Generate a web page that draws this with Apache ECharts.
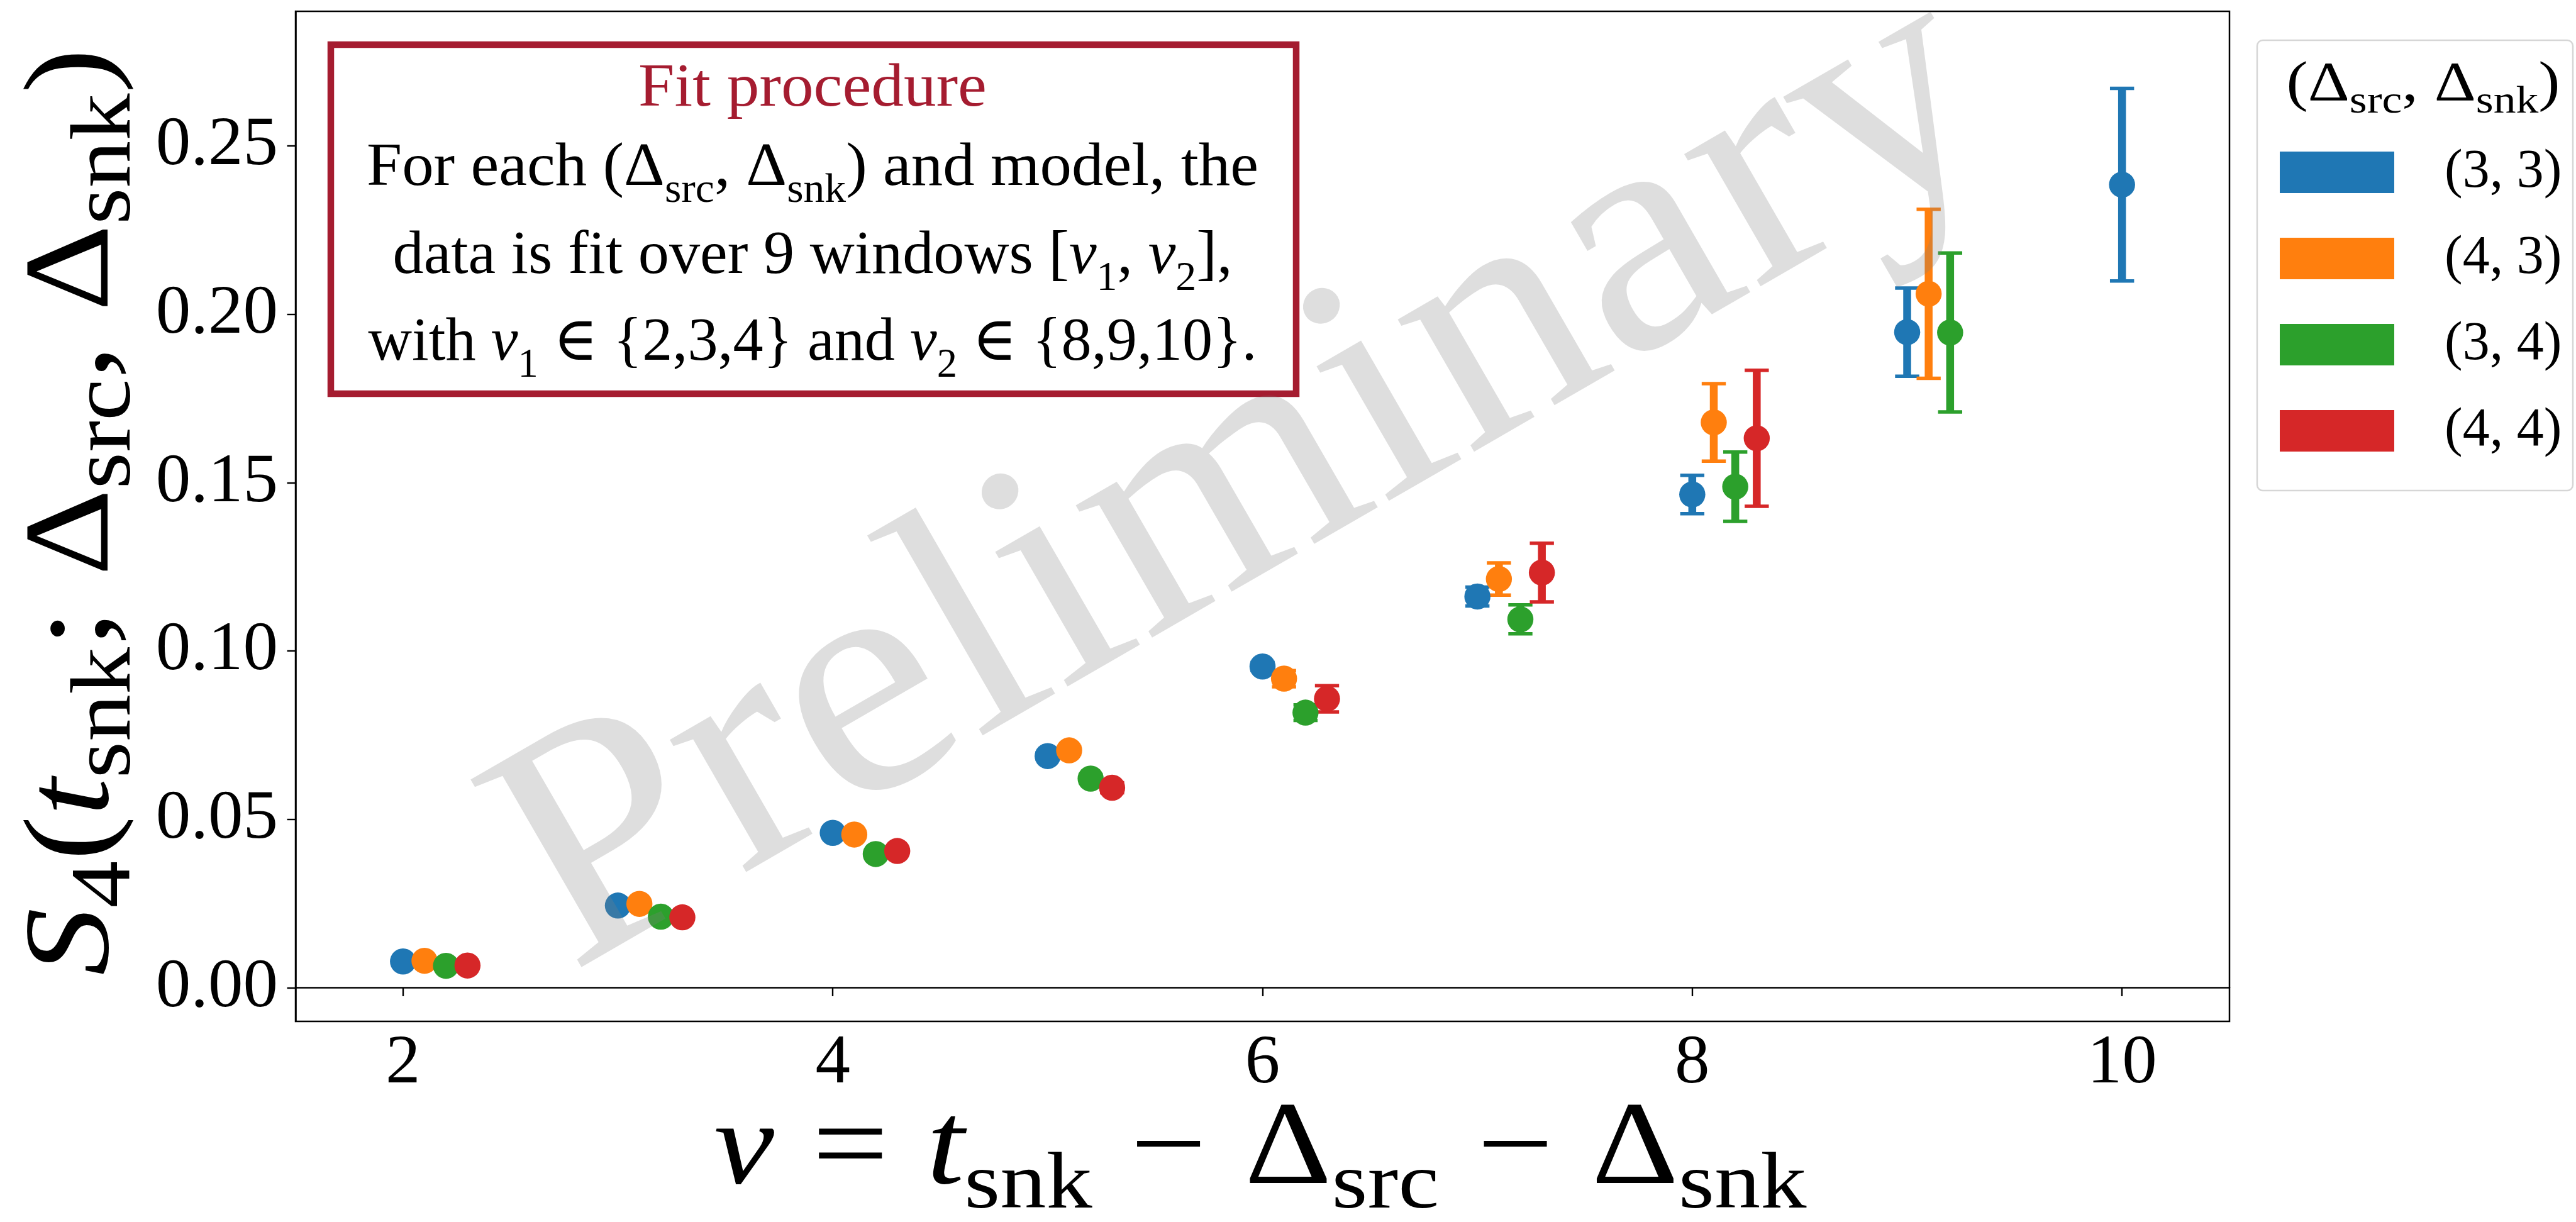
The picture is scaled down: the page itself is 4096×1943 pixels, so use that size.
<!DOCTYPE html>
<html>
<head>
<meta charset="utf-8">
<script src="https://cdn.jsdelivr.net/npm/echarts@6/dist/echarts.min.js"></script>
<style>
  html, body { margin: 0; padding: 0; background: #ffffff; }
  #chart { width: 4096px; height: 1943px; }
</style>
</head>
<body>
<div id="chart"></div>
<script>
// Tick positions
const xTicks = [2, 4, 6, 8, 10];
const yTicks = [0, 0.05, 0.10, 0.15, 0.20, 0.25];

// (Δsrc, Δsnk) = (3, 3)
const x33 = [2, 3, 4, 5, 6, 7, 8, 9, 10];
const y33 = [0.0078, 0.0244, 0.0460, 0.0688, 0.0954, 0.1162, 0.1465, 0.1947, 0.2385];
const e33 = [0.0005, 0.0006, 0.0008, 0.0010, 0.0012, 0.0028, 0.0057, 0.0131, 0.0286];

// (4, 3)
const x43 = [2.1, 3.1, 4.1, 5.1, 6.1, 7.1, 8.1, 9.1];
const y43 = [0.0080, 0.0249, 0.0455, 0.0705, 0.0918, 0.1214, 0.1679, 0.2061];
const e43 = [0.0005, 0.0006, 0.0008, 0.0012, 0.0024, 0.0048, 0.0115, 0.0251];

// (3, 4)
const x34 = [2.2, 3.2, 4.2, 5.2, 6.2, 7.2, 8.2, 9.2];
const y34 = [0.0065, 0.0211, 0.0397, 0.0621, 0.0817, 0.1094, 0.1488, 0.1946];
const e34 = [0.0005, 0.0006, 0.0008, 0.0012, 0.0023, 0.0043, 0.0103, 0.0236];

// (4, 4)
const x44 = [2.3, 3.3, 4.3, 5.3, 6.3, 7.3, 8.3];
const y44 = [0.0066, 0.0209, 0.0406, 0.0594, 0.0858, 0.1233, 0.1632];
const e44 = [0.0005, 0.0007, 0.0009, 0.0015, 0.0039, 0.0087, 0.0202];

const legendNames = ['(3, 3)', '(4, 3)', '(3, 4)', '(4, 4)'];
const palette = ['#1f77b4', '#ff7f0e', '#2ca02c', '#d62728'];

const SERIF = "'Liberation Serif', 'DejaVu Serif', serif";
const CRIMSON = '#A51C30';

const groups = [
  { x: x33, y: y33, e: e33 },
  { x: x43, y: y43, e: e43 },
  { x: x34, y: y34, e: e34 },
  { x: x44, y: y44, e: e44 }
].map((g, i) => Object.assign(g, { name: legendNames[i], color: palette[i] }));

const STEM_W = 12.5, CAP_W = 5.5, CAP_HALF = 19.2, MARKER = 41.5;

const series = [];
groups.forEach(g => {
  series.push({
    type: 'custom',
    name: g.name + ' err',
    data: g.x.map((x, i) => [x, g.y[i], g.e[i]]),
    encode: { x: 0, y: 1 },
    silent: true,
    renderItem: (params, api) => {
      const x = api.value(0), y = api.value(1), e = api.value(2);
      const hi = api.coord([x, y + e]);
      const lo = api.coord([x, y - e]);
      return {
        type: 'group',
        children: [
          { type: 'line', shape: { x1: hi[0], y1: hi[1], x2: lo[0], y2: lo[1] },
            style: { stroke: g.color, lineWidth: STEM_W } },
          { type: 'line', shape: { x1: hi[0] - CAP_HALF, y1: hi[1], x2: hi[0] + CAP_HALF, y2: hi[1] },
            style: { stroke: g.color, lineWidth: CAP_W } },
          { type: 'line', shape: { x1: lo[0] - CAP_HALF, y1: lo[1], x2: lo[0] + CAP_HALF, y2: lo[1] },
            style: { stroke: g.color, lineWidth: CAP_W } }
        ]
      };
    }
  });
  series.push({
    type: 'scatter',
    name: g.name,
    data: g.x.map((x, i) => [x, g.y[i]]),
    symbol: 'circle',
    symbolSize: MARKER,
    itemStyle: { color: g.color, opacity: 1 },
    emphasis: { disabled: true }
  });
});

// ---- text runs with subscripts, laid out piece by piece ----
const mctx = document.createElement('canvas').getContext('2d');
function fontStr(size, italic) { return (italic ? 'italic ' : '') + size + 'px ' + SERIF; }
function advance(t, size, italic) { mctx.font = fontStr(size, italic); return mctx.measureText(t).width; }
function midOffset(size) {
  // distance from the canvas "middle" line down to the alphabetic baseline
  mctx.font = fontStr(size, false);
  const m = mctx.measureText('Hg');
  if (m.fontBoundingBoxAscent) return (m.fontBoundingBoxAscent - m.fontBoundingBoxDescent) / 2;
  return 0.3375 * size;
}

// o: {pieces, size, sub, drop, gap, x, y (baseline centre), width, angle, fill, z}
function textRun(o) {
  const th = o.angle || 0;
  const ux = Math.cos(th), uy = -Math.sin(th);   // along the text
  const nx = Math.sin(th), ny = Math.cos(th);    // towards the glyph bottoms
  const pieces = o.pieces.map(([t, kind]) => {
    const size = kind === 's' ? o.sub : o.size;
    const italic = kind === 'i';
    const pad = kind === 'o' ? (o.gap || 0) : 0;
    return { t, kind, size, italic, pad, w: advance(t, size, italic) + 2 * pad };
  });
  const total = pieces.reduce((s, p) => s + p.w, 0);
  const sx = o.width / total;
  let cur = -o.width / 2;
  return pieces.map(p => {
    const along = cur + p.pad * sx;
    cur += p.w * sx;
    const across = (p.kind === 's' ? o.drop : 0) - midOffset(p.size);
    return {
      type: 'text', z: o.z || 11, silent: true,
      x: o.x + ux * along + nx * across,
      y: o.y + uy * along + ny * across,
      rotation: th, scaleX: sx,
      style: {
        text: p.t, fontFamily: SERIF, fontSize: p.size,
        fontStyle: p.italic ? 'italic' : 'normal',
        fill: o.fill || '#000', align: 'left', verticalAlign: 'middle'
      }
    };
  });
}

const boxText = { size: 97, sub: 65, drop: 25, x: 1292, z: 11 };

const graphics = [].concat(
  // fit-procedure note
  [{ type: 'rect', z: 10, silent: true,
     shape: { x: 526, y: 71, width: 1535, height: 555 },
     style: { fill: '#ffffff', stroke: CRIMSON, lineWidth: 10.5 } }],
  textRun(Object.assign({}, boxText, { y: 175, width: 554, fill: CRIMSON,
    pieces: [['Fit procedure', 'r']] })),
  textRun(Object.assign({}, boxText, { y: 301, width: 1418,
    pieces: [['For each (Δ', 'r'], ['src', 's'], [', Δ', 'r'], ['snk', 's'], [') and model, the', 'r']] })),
  textRun(Object.assign({}, boxText, { y: 441, width: 1335,
    pieces: [['data is fit over 9 windows [', 'r'], ['v', 'i'], ['1', 's'], [', ', 'r'],
             ['v', 'i'], ['2', 's'], ['],', 'r']] })),
  textRun(Object.assign({}, boxText, { y: 579, width: 1413,
    pieces: [['with ', 'r'], ['v', 'i'], ['1', 's'], [' ∈ {2,3,4} and ', 'r'],
             ['v', 'i'], ['2', 's'], [' ∈ {8,9,10}.', 'r']] })),

  // legend frame and title
  [{ type: 'rect', z: 10, silent: true,
     shape: { x: 3589, y: 64, width: 502, height: 716, r: 9 },
     style: { fill: '#ffffff', stroke: '#d6d6d6', lineWidth: 2.5 } }],
  textRun({ size: 89, sub: 62, drop: 18, x: 3853, y: 166, width: 435, z: 21,
    pieces: [['(Δ', 'r'], ['src', 's'], [', Δ', 'r'], ['snk', 's'], [')', 'r']] }),

  // axis titles
  textRun({ size: 188, sub: 128, drop: 34, gap: 53, x: 2004, y: 1895, width: 1737, z: 5,
    pieces: [['v', 'i'], ['=', 'o'], ['t', 'i'], ['snk', 's'], ['−', 'o'],
             ['Δ', 'r'], ['src', 's'], ['−', 'o'], ['Δ', 'r'], ['snk', 's']] }),
  textRun({ size: 193, sub: 135, drop: 31, x: 185, y: 814, width: 1474, angle: Math.PI / 2, z: 5,
    pieces: [['S', 'i'], ['4', 's'], ['(', 'r'], ['t', 'i'], ['snk', 's'], ['; Δ', 'r'],
             ['src', 's'], [', Δ', 'r'], ['snk', 's'], [')', 'r']] }),

  // watermark
  textRun({ size: 529, x: 2070, y: 922, width: 2639, angle: Math.PI / 6, z: 50,
    fill: 'rgba(128,128,128,0.26)', pieces: [['Preliminary', 'r']] })
);

const option = {
  animation: false,
  backgroundColor: '#ffffff',
  grid: {
    left: 470, right: 551, top: 18, bottom: 319,
    show: true, borderColor: '#000', borderWidth: 2.5, backgroundColor: 'transparent'
  },
  xAxis: {
    type: 'value', min: 1.5, max: 10.5,
    axisLine: { show: true, lineStyle: { color: '#000', width: 2.5 } },
    splitLine: { show: false },
    axisTick: { show: true, inside: false, length: 13.5, customValues: xTicks,
                lineStyle: { color: '#000', width: 2.4 } },
    axisLabel: { customValues: xTicks, formatter: v => String(v), margin: 12,
                 fontFamily: SERIF, fontSize: 111, color: '#000' }
  },
  yAxis: {
    type: 'value', min: -0.01, max: 0.29,
    axisLine: { show: true, lineStyle: { color: '#000', width: 2.5 } },
    splitLine: { show: false },
    axisTick: { show: true, inside: false, length: 13.5, customValues: yTicks,
                lineStyle: { color: '#000', width: 2.4 } },
    axisLabel: { customValues: yTicks, formatter: v => v.toFixed(2), margin: 28,
                 fontFamily: SERIF, fontSize: 111, color: '#000' }
  },
  legend: {
    data: groups.map(g => ({ name: g.name, icon: 'rect' })),
    orient: 'vertical', left: 3625, top: 231, padding: 0,
    itemWidth: 182, itemHeight: 66, itemGap: 51,
    selectedMode: false, z: 20,
    formatter: name => '{a|' + name + '}',
    textStyle: {
      fontFamily: SERIF, fontSize: 86, color: '#000',
      rich: { a: { fontFamily: SERIF, fontSize: 86, color: '#000',
                   padding: [0, 0, 0, 75] } }
    }
  },
  graphic: graphics,
  series: series
};

const chart = echarts.init(document.getElementById('chart'), null, { renderer: 'canvas' });
chart.setOption(option);
</script>
</body>
</html>
